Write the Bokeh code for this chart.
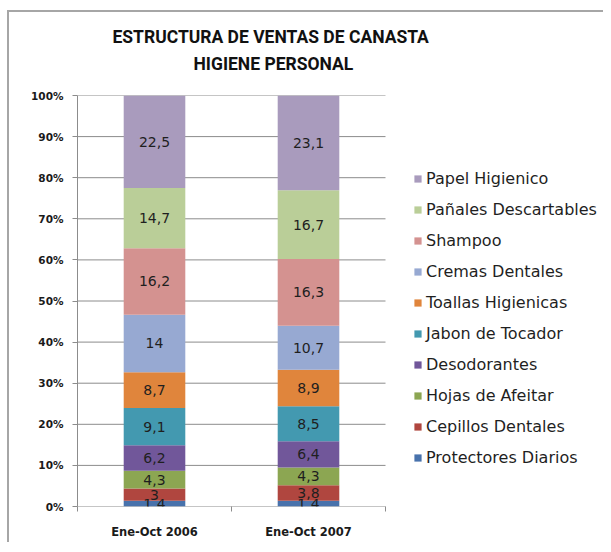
from bokeh.plotting import figure
from bokeh.models import (ColumnDataSource, Legend, LegendItem, FixedTicker,
                          NumeralTickFormatter, Title, Range1d)
from bokeh.core.properties import value
from bokeh.embed import file_html
from bokeh.resources import INLINE

periods = ["Ene-Oct 2006", "Ene-Oct 2007"]
categories = ["Protectores Diarios", "Cepillos Dentales", "Hojas de Afeitar",
              "Desodorantes", "Jabon de Tocador", "Toallas Higienicas",
              "Cremas Dentales", "Shampoo", "Pañales Descartables", "Papel Higienico"]
values_2006 = [1.4, 3, 4.3, 6.2, 9.1, 8.7, 14, 16.2, 14.7, 22.5]
values_2007 = [1.4, 3.8, 4.3, 6.4, 8.5, 8.9, 10.7, 16.3, 16.7, 23.1]
colors = ["#4872AC", "#B0463F", "#8CA652", "#71579A", "#4399B0",
          "#E0853C", "#97A9D2", "#D49290", "#BACE98", "#A99BBD"]
y_ticks = [0, 0.1, 0.2, 0.3, 0.4, 0.5, 0.6, 0.7, 0.8, 0.9, 1.0]

FONT = "DejaVu Sans"
GRID = "#8c8c8c"

W, H = 596, 532
BL, BR, BT, BB = 68, 0, 83, 38
PLOT_PX = 308  # pixel width of the category area
n = len(periods)
x_end = n * (W - BL - BR) / PLOT_PX

p = figure(width=W, height=H, output_backend="svg", toolbar_location=None,
           x_range=Range1d(0, x_end), y_range=Range1d(0, 1),
           min_border_left=BL, min_border_right=BR, min_border_top=BT,
           min_border_bottom=BB)
p.outline_line_color = None
p.background_fill_color = "white"
p.border_fill_color = "white"
p.styles = {"border-top": "2px solid #a6a6a6", "border-left": "2px solid #a6a6a6",
            "margin-top": "10px", "margin-left": "7px"}

# horizontal gridlines across the category area only
p.segment(x0=[0] * len(y_ticks), x1=[n] * len(y_ticks), y0=y_ticks, y1=y_ticks,
          line_color=GRID, line_width=1)

series = [values_2006, values_2007]
totals = [sum(s) for s in series]
xs = [i + 0.5 for i in range(n)]
bottoms = [0.0] * n
renderers = []
lx, ly, lt = [], [], []
for i, cat in enumerate(categories):
    vals = [series[j][i] for j in range(n)]
    tops = [bottoms[j] + vals[j] / totals[j] for j in range(n)]
    src = ColumnDataSource(dict(x=xs, bottom=list(bottoms), top=tops))
    r = p.vbar(x="x", bottom="bottom", top="top", width=0.4, source=src,
               fill_color=colors[i], line_color=None)
    renderers.append(r)
    for j in range(n):
        lx.append(xs[j])
        ly.append((bottoms[j] + tops[j]) / 2)
        lt.append(f"{vals[j]:g}".replace(".", ","))
    bottoms = tops

lsrc = ColumnDataSource(dict(x=lx, y=ly, t=lt))
p.text(x="x", y="y", text="t", source=lsrc, text_align="center",
       text_baseline="middle", text_font=value(FONT), text_font_size="14px",
       text_color="#1f1f1f")

# axes
p.yaxis.ticker = FixedTicker(ticks=y_ticks)
p.yaxis.formatter = NumeralTickFormatter(format="0%")
p.yaxis.major_label_text_font = FONT
p.yaxis.major_label_text_font_style = "bold"
p.yaxis.major_label_text_font_size = "10.5px"
p.yaxis.major_label_text_color = "#1a1a1a"
p.yaxis.axis_line_color = GRID
p.yaxis.major_tick_line_color = GRID
p.yaxis.major_tick_out = 5
p.yaxis.major_tick_in = 0
p.yaxis.minor_tick_line_color = None
p.yaxis.major_label_standoff = 9

p.xaxis.ticker = FixedTicker(ticks=xs, minor_ticks=list(range(n + 1)))
p.xaxis.major_label_overrides = {xs[j]: periods[j] for j in range(n)}
p.xaxis.major_label_text_font = FONT
p.xaxis.major_label_text_font_style = "bold"
p.xaxis.major_label_text_font_size = "11.5px"
p.xaxis.major_label_text_color = "#1a1a1a"
p.xaxis.axis_line_color = None
p.xaxis.major_tick_line_color = None
p.xaxis.major_tick_out = 0
p.xaxis.major_tick_in = 0
p.xaxis.minor_tick_line_color = GRID
p.xaxis.minor_tick_out = 5
p.xaxis.minor_tick_in = 0
p.xaxis.major_label_standoff = 13

p.xgrid.grid_line_color = None
p.ygrid.grid_line_color = None

# titles (a thin spacer keeps the two title lines away from the plot area)
TFONT = "Roboto"
spacer = Title(text=" ", text_font_size="1px", standoff=17)
t2 = Title(text="HIGIENE PERSONAL", align="left", offset=116,
           text_font=TFONT, text_font_size="17.5px",
           text_font_style="bold", text_color="#111111", standoff=4)
t1 = Title(text="ESTRUCTURA DE VENTAS DE CANASTA", align="left", offset=35,
           text_font=TFONT, text_font_size="17.5px",
           text_font_style="bold", text_color="#111111", standoff=6)
p.add_layout(spacer, "above")
p.add_layout(t2, "above")
p.add_layout(t1, "above")

items = [LegendItem(label=categories[i], renderers=[renderers[i]])
         for i in reversed(range(len(categories)))]
legend = Legend(items=items, location=(336, 39), padding=0, margin=0,
                glyph_width=9, glyph_height=9, label_height=20, spacing=11,
                label_standoff=4, label_text_font=FONT, label_text_font_size="16px",
                label_text_color="#1f1f1f", border_line_color=None,
                background_fill_alpha=0)
p.add_layout(legend, "center")

open("out.html", "w").write(file_html(p, INLINE))
